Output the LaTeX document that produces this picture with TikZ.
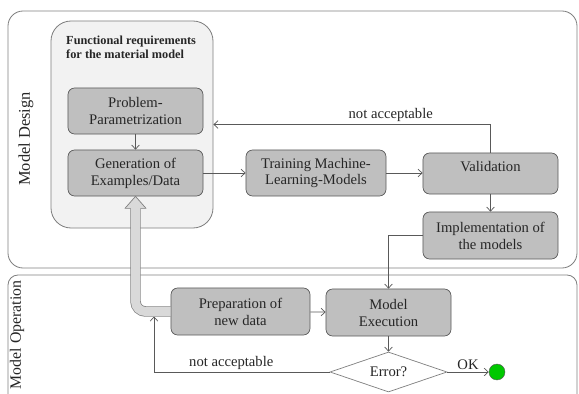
\documentclass[tikz,border=0pt]{standalone}
\usepackage{fontspec}
\setmainfont{Liberation Serif}
\usetikzlibrary{shapes.geometric,arrows.meta}
\definecolor{boxgray}{HTML}{BFBFBF}
\definecolor{linegray}{HTML}{595959}
\definecolor{framegray}{HTML}{7F7F7F}
\definecolor{panelgray}{HTML}{F2F2F2}
\definecolor{pipegray}{HTML}{D9D9D9}
\definecolor{txtgray}{HTML}{262626}
\definecolor{okgreen}{HTML}{00C800}
\tikzset{
  stepbox/.style={draw=linegray, fill=boxgray, rounded corners=0.2cm, line width=0.6pt, align=center,
    font=\fontsize{12.5}{14.5}\selectfont, text=txtgray, minimum width=4.05cm, minimum height=1.38cm, inner sep=1pt},
  flow/.style={draw=linegray, line width=0.6pt, -{Straight Barb[length=3.5pt,width=6.5pt]}},
  lbl/.style={font=\fontsize{12.5}{14.5}\selectfont, text=txtgray, inner sep=2pt},
  frame/.style={draw=framegray, line width=0.7pt},
  pipe/.style={draw=framegray, double=pipegray, double distance=0.27cm, line width=0.6pt},
}
\begin{document}
\begin{tikzpicture}[x=0.03cm, y=-0.03cm]
            \clip (0,0) rectangle (579,394);
            \draw[frame, rounded corners=0.45cm] (8,11) rectangle (577,268);
            \draw[frame, rounded corners=0.3cm] (8,275) rectangle (577,410);
            \node[frame, fill=panelgray, rounded corners=0.6cm, minimum width=4.86cm, minimum height=6.21cm] (func) at (132,124.5) {};
            \node[anchor=north west, inner sep=0, align=left, font=\fontsize{10.5}{12}\selectfont\bfseries, text=txtgray] (req) at (66,35.5) {Functional requirements\\for the material model};

            \node[rotate=90, font=\fontsize{14}{16}\selectfont, text=txtgray] (design) at (26,139) {Model Design};
            \node[rotate=90, font=\fontsize{13.5}{16}\selectfont, text=txtgray] (operation) at (17,335) {Model Operation};

            \node[stepbox] (prob) at (135.5,111) {Problem-\\Parametrization};
            \node[stepbox] (gen) at (135.5,173) {Generation of\\Examples/Data};
            \node[stepbox, minimum width=4.2cm] (train) at (316,173) {Training Machine-\\Learning-Models};
            \node[stepbox, minimum height=1.23cm] (valid) at (490.5,173.5) {\raisebox{12pt}{Validation}};
            \node[stepbox, minimum height=1.41cm] (impl) at (490.5,235.5) {Implementation of\\the models};
            \node[stepbox, minimum width=4.17cm, minimum height=1.41cm] (prep) at (240.5,311.5) {Preparation of\\new data};
            \node[stepbox, minimum width=3.75cm, minimum height=1.41cm] (exec) at (388.5,312.5) {Model\\Execution};
            \node[lbl, diamond, draw=framegray, fill=white, line width=0.6pt, aspect=3, minimum width=3.51cm, minimum height=1.2cm, inner sep=0pt] (err) at (388.5,372) {Error?};
            \node[circle, draw=linegray, fill=okgreen, minimum size=0.48cm, inner sep=0pt] (ok) at (497,372) {};
            \coordinate (back) at (154,316.5);

            \draw[flow] (prob) -- (gen);
            \draw[flow] (gen) -- (train);
            \draw[flow] (train.east) -- (train.east -| valid.west);
            \draw[flow] (valid.north) |- (func.east) node[lbl, above, pos=0.68] {not acceptable};
            \draw[flow] (valid) -- (impl);
            \draw[flow] (impl.west) -| (exec.north);
            \draw[flow] (prep) -- (exec);
            \draw[flow] (exec) -- (err);
            \draw[flow] (err) -- (ok) node[lbl, above, midway] {OK};
            \draw[flow] (err.west) -| (back) node[lbl, above, pos=0.28] {not acceptable};

            \draw[pipe, rounded corners=0.3cm] (prep.west) -| ([yshift=-0.345cm]gen.south);
            \fill[pipegray] ([shift={(-10.5,12)}]gen.south) -- (gen.south) -- ([shift={(10.5,12)}]gen.south) -- cycle;
            \draw[framegray, line width=0.6pt, line join=round] ([shift={(-5,12)}]gen.south) -- ([shift={(-10.5,12)}]gen.south) -- (gen.south) -- ([shift={(10.5,12)}]gen.south) -- ([shift={(5,12)}]gen.south);
        \end{tikzpicture}
\end{document}
